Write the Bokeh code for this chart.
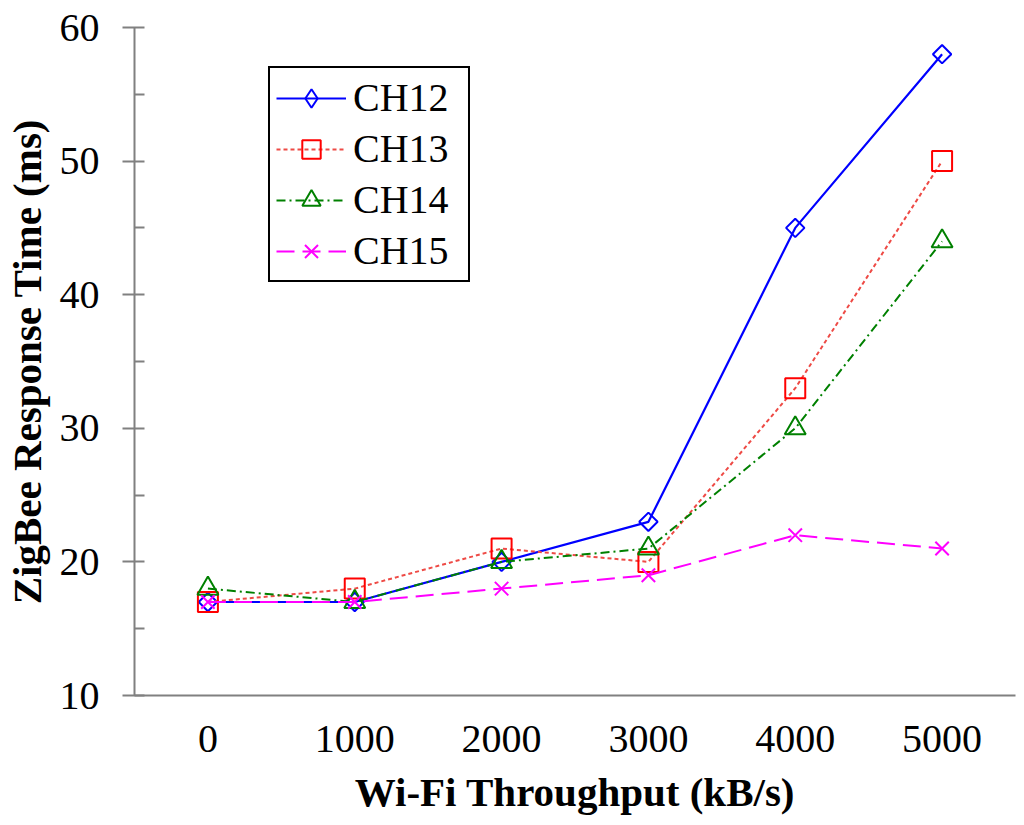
import math
from bokeh.plotting import figure
from bokeh.models import FixedTicker, Legend, LegendItem, Range1d
from bokeh.embed import file_html
from bokeh.resources import INLINE

throughput = [0, 1000, 2000, 3000, 4000, 5000]
ch12 = [17, 17, 20, 23, 45, 58]
ch13 = [17, 18, 21, 20, 33, 50]
ch14 = [18, 17, 20, 21, 30, 44]
ch15 = [17, 17, 18, 19, 22, 21]
y_ticks = [10, 20, 30, 40, 50, 60]
y_minor = [15, 25, 35, 45, 55]
x_ticks = [0, 1000, 2000, 3000, 4000, 5000]

FONT = "Liberation Serif"
AXIS_COLOR = "#808080"

p = figure(width=1020, height=822, output_backend="svg", toolbar_location=None,
           x_range=Range1d(-500, 5500), y_range=Range1d(10, 60),
           min_border_left=132, min_border_top=27, min_border_right=5, min_border_bottom=127)
p.outline_line_color = None
p.xgrid.visible = False
p.ygrid.visible = False
p.background_fill_color = "white"
# an off-screen range used only to give the legend a diamond swatch
p.extra_y_ranges = {"legend_only": Range1d(1000, 2000)}

# Axes
p.xaxis.ticker = FixedTicker(ticks=x_ticks)
p.xaxis.major_tick_out = 0
p.xaxis.major_tick_in = 0
p.xaxis.minor_tick_out = 0
p.xaxis.minor_tick_in = 0
p.xaxis.axis_line_color = AXIS_COLOR
p.xaxis.axis_line_width = 2
p.xaxis.major_label_text_font = FONT
p.xaxis.major_label_text_font_size = "40px"
p.xaxis.major_label_text_color = "black"
p.xaxis.major_label_standoff = 30
p.xaxis.axis_label = "Wi-Fi Throughput (kB/s)"
p.xaxis.axis_label_text_font = FONT
p.xaxis.axis_label_text_font_style = "bold"
p.xaxis.axis_label_text_font_size = "41px"
p.xaxis.axis_label_text_color = "black"
p.xaxis.axis_label_standoff = 14

p.yaxis.ticker = FixedTicker(ticks=y_ticks, minor_ticks=y_minor)
p.yaxis.major_tick_out = 12
p.yaxis.major_tick_in = 10
p.yaxis.minor_tick_out = 0
p.yaxis.minor_tick_in = 10
p.yaxis.major_tick_line_color = AXIS_COLOR
p.yaxis.minor_tick_line_color = AXIS_COLOR
p.yaxis.major_tick_line_width = 2
p.yaxis.minor_tick_line_width = 2
p.yaxis.axis_line_color = AXIS_COLOR
p.yaxis.axis_line_width = 2
p.yaxis.major_label_text_font = FONT
p.yaxis.major_label_text_font_size = "40px"
p.yaxis.major_label_text_color = "black"
p.yaxis.major_label_standoff = 23
p.yaxis.axis_label = "ZigBee Response Time (ms)"
p.yaxis.axis_label_text_font = FONT
p.yaxis.axis_label_text_font_style = "bold"
p.yaxis.axis_label_text_font_size = "41px"
p.yaxis.axis_label_text_color = "black"
p.yaxis.axis_label_standoff = 7

# name, values, marker colour, line colour, dash, line width, plot marker, size, angle, legend marker
series = [
    ("CH12", ch12, "#0000FF", "#0000FF", "solid", 2.2, "square", 13, math.pi / 4, "diamond"),
    ("CH13", ch13, "#FF0000", "#EE4A45", "4 3", 2, "square", 20, 0, None),
    ("CH14", ch14, "#008000", "#008000", "9 4 2 4", 2, "triangle", 21, 0, None),
    ("CH15", ch15, "#FF00FF", "#FF00FF", "18 8", 2, "x", 19, 0, None),
]

items = []
for name, vals, mcolor, lcolor, dash, lw, marker, size, angle, lmarker in series:
    ln = p.line(throughput, vals, line_color=lcolor, line_width=lw, line_dash=dash)
    sc = p.scatter(throughput, vals, marker=marker, size=size, angle=angle,
                   line_color=mcolor, line_width=2, fill_color=None)
    if lmarker is not None:
        # legend glyphs ignore marker angle, so give the legend a real diamond
        # from a copy of the series mapped onto an off-screen range
        lg = p.scatter(throughput, vals, marker=lmarker, size=size,
                       line_color=mcolor, line_width=2, fill_color=None,
                       y_range_name="legend_only")
        items.append(LegendItem(label=name, renderers=[ln, lg]))
    else:
        items.append(LegendItem(label=name, renderers=[ln, sc]))

legend = Legend(items=items, location=(134, 413))
legend.label_text_font = FONT
legend.label_text_font_size = "40px"
legend.label_text_color = "black"
legend.border_line_color = "black"
legend.border_line_alpha = 1
legend.border_line_width = 2
legend.padding = 6
legend.spacing = 4
legend.margin = 0
legend.glyph_width = 70
legend.glyph_height = 46
legend.label_height = 46
legend.label_width = 109
legend.label_standoff = 7
legend.background_fill_color = "white"
legend.background_fill_alpha = 1
p.add_layout(legend)

open("out.html", "w").write(file_html(p, INLINE))
